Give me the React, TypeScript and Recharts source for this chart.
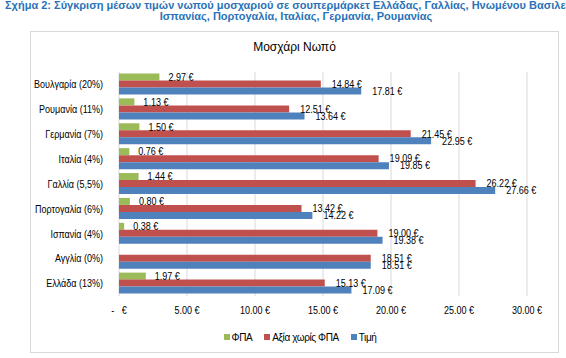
import React from "react";
import { BarChart, Bar, XAxis, YAxis, CartesianGrid, Legend, LabelList } from "recharts";

const categories = [
  "Βουλγαρία (20%)",
  "Ρουμανία (11%)",
  "Γερμανία (7%)",
  "Ιταλία (4%)",
  "Γαλλία (5,5%)",
  "Πορτογαλία (6%)",
  "Ισπανία (4%)",
  "Αγγλία (0%)",
  "Ελλάδα (13%)",
];
const fpa = [2.97, 1.13, 1.5, 0.76, 1.44, 0.8, 0.38, 0, 1.97];
const axiaXorisFpa = [14.84, 12.51, 21.45, 19.09, 26.22, 13.42, 19.0, 18.51, 15.13];
const timi = [17.81, 13.64, 22.95, 19.85, 27.66, 14.22, 19.38, 18.51, 17.09];
const xTicks = [0, 5, 10, 15, 20, 25, 30];
const seriesNames = ["ΦΠΑ", "Αξία χωρίς ΦΠΑ", "Τιμή"];

const data = categories.map((c, i) => ({
  name: c,
  fpa: fpa[i],
  axia: axiaXorisFpa[i],
  timi: timi[i],
}));

const FONT = "'Liberation Sans', Arial, sans-serif";
const GREEN = "#9BBB59";
const RED = "#C0504D";
const BLUE = "#4F81BD";
const SX = 0.82; // emulate a narrow font

const fmt = (v: any) => (Number(v) === 0 ? "-\u00A0\u00A0\u00A0€" : `${Number(v).toFixed(2)} €`);

const NarrowText = ({ x, y, anchor, children }: any) => (
  <text
    transform={`translate(${x},${y}) scale(${SX},1)`}
    x={0}
    y={0}
    textAnchor={anchor}
    dominantBaseline="central"
    fontFamily={FONT}
    fontSize={11}
    fill="#000"
  >
    {children}
  </text>
);

const YTick = (props: any) => {
  const { x, y, payload } = props;
  return <NarrowText x={x} y={y} anchor="end">{payload.value}</NarrowText>;
};

const XTick = (props: any) => {
  const { x, y, payload } = props;
  return <NarrowText x={x} y={y + 6} anchor="middle">{fmt(payload.value)}</NarrowText>;
};

const makeLabel = (offset: number) => (props: any) => {
  const { x, y, width, height, value } = props;
  return (
    <NarrowText x={Number(x) + Number(width) + offset} y={Number(y) + Number(height) / 2} anchor="start">
      {fmt(value)}
    </NarrowText>
  );
};

const legendColors = [GREEN, RED, BLUE];

const LegendContent = () => (
  <div
    style={{
      position: "relative",
      top: 4,
      display: "flex",
      justifyContent: "center",
      alignItems: "center",
      gap: 12,
      height: 14,
      fontFamily: FONT,
      fontSize: 10,
      color: "#000",
      paddingLeft: 34,
    }}
  >
    {seriesNames.map((n, i) => (
      <div key={n} style={{ display: "flex", alignItems: "center", gap: 2 }}>
        <span style={{ width: 6, height: 6, background: legendColors[i], display: "inline-block" }} />
        <span style={{ letterSpacing: -0.4 }}>{n}</span>
      </div>
    ))}
  </div>
);

export default function App() {
  return (
    <div
      style={{
        position: "absolute",
        left: 0,
        top: 0,
        width: 566,
        height: 358,
        overflow: "hidden",
        background: "#fff",
        fontFamily: FONT,
      }}
    >
      <div
        style={{
          position: "absolute",
          left: 5,
          top: 0,
          whiteSpace: "nowrap",
          fontSize: 11,
          fontWeight: "bold",
          color: "#2A72B8",
          lineHeight: "11px",
        }}
      >
        Σχήμα 2: Σύγκριση μέσων τιμών νωπού μοσχαριού σε σουπερμάρκετ Ελλάδας, Γαλλίας, Ηνωμένου Βασιλείου,
      </div>
      <div
        style={{
          position: "absolute",
          left: 0,
          width: 592,
          top: 11,
          textAlign: "center",
          whiteSpace: "nowrap",
          fontSize: 11,
          fontWeight: "bold",
          color: "#2A72B8",
          lineHeight: "11px",
        }}
      >
        Ισπανίας, Πορτογαλία, Ιταλίας, Γερμανία, Ρουμανίας
      </div>
      <div
        style={{
          position: "absolute",
          left: 30,
          top: 31,
          width: 527,
          height: 320,
          border: "1px solid #D9D9D9",
        }}
      >
        <div
          style={{
            position: "absolute",
            left: 0,
            width: 527,
            top: 8,
            textAlign: "center",
            fontFamily: FONT,
            fontSize: 12,
            color: "#000",
          }}
        >
          Μοσχάρι Νωπό
        </div>
        <BarChart
          width={527}
          height={320}
          data={data}
          layout="vertical"
          margin={{ top: 40, right: 31, left: 8, bottom: 12 }}
          barCategoryGap="6%"
          barGap={0}
        >
          <CartesianGrid horizontal={false} vertical={true} stroke="#D9D9D9" />
          <XAxis
            type="number"
            domain={[0, 30]}
            ticks={xTicks}
            axisLine={false}
            tickLine={false}
            tick={<XTick />}
            height={30}
          />
          <YAxis
            type="category"
            dataKey="name"
            width={80}
            axisLine={false}
            tickLine={false}
            tick={<YTick />}
            tickMargin={10}
          />
          <Legend verticalAlign="bottom" content={<LegendContent />} />
          <Bar dataKey="fpa" name={seriesNames[0]} fill={GREEN} isAnimationActive={false}>
            <LabelList dataKey="fpa" content={makeLabel(9)} />
          </Bar>
          <Bar dataKey="axia" name={seriesNames[1]} fill={RED} isAnimationActive={false}>
            <LabelList dataKey="axia" content={makeLabel(11)} />
          </Bar>
          <Bar dataKey="timi" name={seriesNames[2]} fill={BLUE} isAnimationActive={false}>
            <LabelList dataKey="timi" content={makeLabel(11)} />
          </Bar>
        </BarChart>
      </div>
    </div>
  );
}
